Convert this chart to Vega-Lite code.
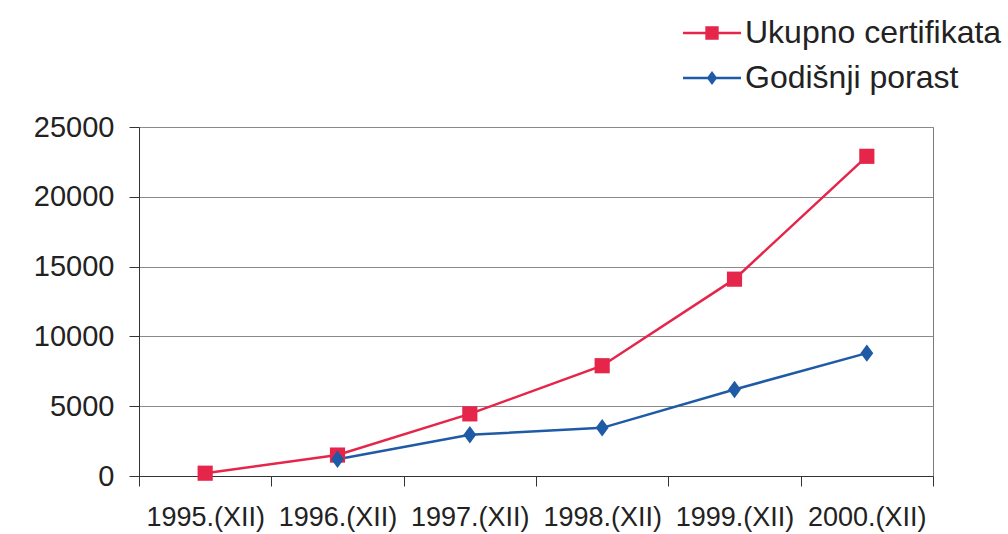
{
  "$schema": "https://vega.github.io/schema/vega-lite/v6.json",
  "width": 794,
  "height": 349,
  "autosize": {"type": "none"},
  "padding": {"left": 139, "top": 127, "right": 75, "bottom": 58},
  "background": "white",
  "config": {
    "view": {"stroke": "#7a7a7a", "strokeWidth": 1},
    "font": "Liberation Sans"
  },
  "data": {
    "values": [
      {"godina": "1995.(XII)", "serija": "Ukupno certifikata", "vrijednost": 200},
      {"godina": "1996.(XII)", "serija": "Ukupno certifikata", "vrijednost": 1500},
      {"godina": "1997.(XII)", "serija": "Ukupno certifikata", "vrijednost": 4450},
      {"godina": "1998.(XII)", "serija": "Ukupno certifikata", "vrijednost": 7900},
      {"godina": "1999.(XII)", "serija": "Ukupno certifikata", "vrijednost": 14100},
      {"godina": "2000.(XII)", "serija": "Ukupno certifikata", "vrijednost": 22900},
      {"godina": "1996.(XII)", "serija": "Godišnji porast", "vrijednost": 1200},
      {"godina": "1997.(XII)", "serija": "Godišnji porast", "vrijednost": 2950},
      {"godina": "1998.(XII)", "serija": "Godišnji porast", "vrijednost": 3450},
      {"godina": "1999.(XII)", "serija": "Godišnji porast", "vrijednost": 6200},
      {"godina": "2000.(XII)", "serija": "Godišnji porast", "vrijednost": 8800}
    ]
  },
  "encoding": {
    "x": {
      "field": "godina",
      "type": "nominal",
      "sort": null,
      "scale": {"type": "band", "paddingInner": 0, "paddingOuter": 0, "domain": ["1995.(XII)", "1996.(XII)", "1997.(XII)", "1998.(XII)", "1999.(XII)", "2000.(XII)"]},
      "axis": {
        "title": null,
        "labelAngle": 0,
        "tickBand": "extent",
        "grid": false,
        "domainColor": "#333333",
        "tickColor": "#333333",
        "tickSize": 10,
        "labelFontSize": 27,
        "labelColor": "#222222",
        "labelPadding": 18
      }
    },
    "y": {
      "field": "vrijednost",
      "type": "quantitative",
      "scale": {"domain": [0, 25000], "nice": false},
      "axis": {
        "title": null,
        "values": [0, 5000, 10000, 15000, 20000, 25000],
        "format": "d",
        "grid": true,
        "gridColor": "#8a8a8a",
        "gridWidth": 1,
        "domainColor": "#333333",
        "tickColor": "#333333",
        "tickSize": 10,
        "labelPadding": 15,
        "labelFontSize": 29,
        "labelColor": "#222222"
      }
    },
    "color": {
      "field": "serija",
      "type": "nominal",
      "scale": {"domain": ["Ukupno certifikata", "Godišnji porast"], "range": ["#e5254a", "#1f5aa6"]},
      "legend": {
        "orient": "none",
        "legendX": 544,
        "legendY": -123,
        "title": null,
        "padding": 0,
        "labelFontSize": 32,
        "labelLimit": 500,
        "labelColor": "#222222",
        "labelOffset": 4,
        "symbolSize": 3364,
        "rowPadding": -10,
        "encode": {
          "symbols": {
            "update": {
              "shape": {"signal": "datum.value === 'Ukupno certifikata' ? 'M-1,-0.045H1V0.045H-1Z M-0.23,-0.23H0.23V0.23H-0.23Z' : 'M-1,-0.045H1V0.045H-1Z M0,-0.24L0.18,0L0,0.24L-0.18,0Z'"},
              "fill": {"scale": "color", "field": "value"},
              "strokeWidth": {"value": 0},
              "opacity": {"value": 1},
              "fillOpacity": {"value": 1}
            }
          }
        }
      }
    }
  },
  "layer": [
    {"mark": {"type": "line", "strokeWidth": 2.5}},
    {
      "transform": [{"filter": "datum.serija === 'Ukupno certifikata'"}],
      "mark": {"type": "point", "filled": true, "opacity": 1, "size": 230, "shape": "square"}
    },
    {
      "transform": [{"filter": "datum.serija === 'Godišnji porast'"}],
      "mark": {"type": "point", "filled": true, "opacity": 1, "size": 230, "shape": "M0,-1.15L0.85,0L0,1.15L-0.85,0Z"}
    }
  ]
}
